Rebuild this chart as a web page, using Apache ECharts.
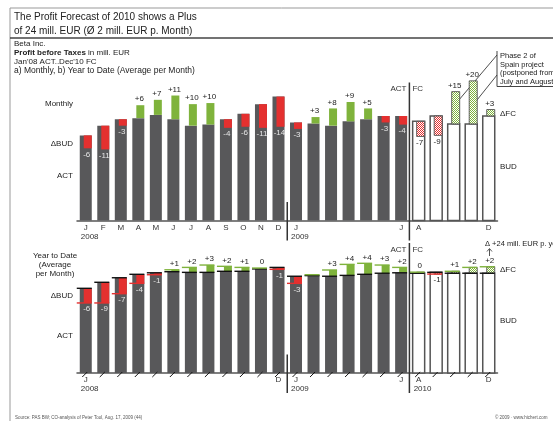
<!DOCTYPE html>
<html><head><meta charset="utf-8">
<script src="https://cdn.jsdelivr.net/npm/echarts@6/dist/echarts.min.js"></script>
<style>html,body{margin:0;padding:0;background:#fff}#c{width:553px;height:421px}</style>
</head><body><div id="c"></div>
<script>
// ---- data ----
const periods = ['Jan08','Feb08','Mar08','Apr08','May08','Jun08','Jul08','Aug08','Sep08','Oct08','Nov08','Dec08',
  'Jan09','Feb09','Mar09','Apr09','May09','Jun09','Jul09','AugFC','SepFC','OctFC','NovFC','DecFC'];
const topTicks    = ['J','F','M','A','M','J','J','A','S','O','N','D','J','','','','','','J','A','','','','D'];
const bottomTicks = ['J','','','','','','','','','','','D','J','','','','','','J','A','','','','D'];
const topYears    = ['2008','','','','','','','','','','','','2009','','','','','','','','','','',''];
const bottomYears = ['2008','','','','','','','','','','','','2009','','','','','','','2010','','','',''];
const firstForecast = 19;
// Monthly: budget and deviation (ACT/FC - BUD)
const monthBud   = [39.5,44,47,47.5,49,47,44,44.5,47,49.5,54,57.5, 45.5,45,44,46,47,48.5,48.5, 46,48.5,44.8,44.8,48.5];
const monthDelta = [-6,-11,-3,6,7,11,10,10,-4,-6,-11,-14, -3,3,8,9,5,-3,-4, -7,-9,15,20,3];
// Year to date (average per month)
const ytdBud    = [39.3,42.1,44.2,45.8,46.5,47.0,46.7,46.7,47.2,47.2,48.3,49.0, 44.9,45.2,44.9,45.3,45.8,46.3,46.5, 46.3,46.7,46.3,46.3,46.3];
const ytdAct    = [32.5,32.5,36.8,41.6,45.6,47.9,49.0,50.1,49.5,49.0,48.7,48.1, 41.6,45.6,47.8,50.4,50.9,50.1,49.0, 46.8,45.9,47.2,49.0,49.3];
const ytdLabels = ['-6','-9','-7','-4','-1','+1','+2','+3','+2','+1','0','-1', '-3','','+3','+4','+4','+3','+2', '0','-1','+1','+2','+2'];

const FONT = 'Liberation Sans, Arial, sans-serif';
const GREY = '#58585a', RED = '#e4302f', GREEN = '#7fb33c', TXT = '#222';

function checker(color){
  const c = document.createElement('canvas'); c.width = 2; c.height = 2;
  const g = c.getContext('2d'); g.fillStyle = '#fff'; g.fillRect(0,0,2,2);
  g.fillStyle = color; g.fillRect(0,0,1,1); g.fillRect(1,1,1,1);
  return {image: c, repeat: 'repeat'};
}
const RED_H = checker(RED), GREEN_H = checker(GREEN);

const monthAct = monthBud.map((b,i)=>b+monthDelta[i]);
const monthLabels = monthDelta.map(d => (d>0?'+':'')+d);

function txt(x,y,s,fill,align,va,size,weight){
  return {type:'text', style:{text:s, x:x, y:y, fill:fill||TXT, align:align||'center', verticalAlign:va||'middle',
    textAlign:align||'center', textVerticalAlign:va||'middle', fontSize:size||8, fontFamily:FONT, fontWeight:weight||'normal'}};
}

function makeRender(panel){
  return function(params, api){
    const i = params.dataIndex;
    const bud = panel.bud[i], act = panel.act[i], lab = panel.labels[i];
    const fc = i >= firstForecast;
    const p0 = api.coord([i,0]), pb = api.coord([i,bud]), pa = api.coord([i,act]);
    const band = api.size([1,0])[0];
    const k = band/17.52;
    const cx = p0[0], base = p0[1];
    const ch = [];
    ch.push({type:'rect', shape:{x:cx-6*k, y:pb[1], width:12*k, height:base-pb[1]},
      style: fc ? {fill:'#fff', stroke:'#555', lineWidth:1.5} : {fill:GREY}});
    const neg = act < bud;
    const y1 = Math.min(pa[1],pb[1]), h = Math.abs(pa[1]-pb[1]);
    if (h > 0.3) {
      ch.push({type:'rect', shape:{x:cx-2*k, y:y1, width:8*k, height:h},
        style: fc ? {fill: neg?RED_H:GREEN_H, stroke:'#555', lineWidth:0.9} : {fill: neg?RED:GREEN}});
    }
    if (panel.lines) {
      ch.push({type:'line', shape:{x1:cx-9*k,y1:pb[1],x2:cx+6*k,y2:pb[1]}, style:{stroke:'#111', lineWidth:1.4}});
      ch.push({type:'line', shape:{x1:cx-9*k,y1:pa[1],x2:cx+6*k,y2:pa[1]}, style:{stroke: neg?RED:GREEN, lineWidth:1.4}});
      ch.push({type:'line', shape:{x1:cx-3.5*k,y1:base+4,x2:cx+1.5*k,y2:base-1}, style:{stroke:'#111', lineWidth:1}});
    }
    if (lab !== '') {
      if (lab.charAt(0) === '-') {
        ch.push(txt(cx+1, Math.max(pa[1],pb[1])+6, lab, fc?TXT:'#e6e6e6'));
      } else {
        ch.push(txt(cx+1, Math.min(pa[1],pb[1])-6, lab, TXT));
      }
    }
    if (panel.years[i]) ch.push(txt(cx-5, base+16, panel.years[i], '#333', 'left'));
    if (i === 12) {
      const x = cx - band/2;
      ch.push({type:'line', shape:{x1:x,y1:base-18.5,x2:x,y2:base+20}, style:{stroke:'#333', lineWidth:1.5}});
    }
    if (i === firstForecast) {
      const x = cx - band/2 - 0.5;
      ch.push({type:'line', shape:{x1:x,y1:base-panel.sepTop,x2:x,y2:base+20}, style:{stroke:'#333', lineWidth:1.5}});
      ch.push(txt(x-3, base-panel.sepText, 'ACT', '#333', 'right'));
      ch.push(txt(x+3, base-panel.sepText, 'FC', '#333', 'left'));
    }
    return {type:'group', children:ch};
  };
}

const topPanel = {bud:monthBud, act:monthAct, labels:monthLabels, years:topYears, lines:false, sepTop:138, sepText:132};
const botPanel = {bud:ytdBud, act:ytdAct, labels:ytdLabels, years:bottomYears, lines:true, sepTop:130, sepText:123};

const SCALE_MAX = 70;
function xAxis(idx, ticks){
  return {type:'category', gridIndex:idx, data:periods, boundaryGap:true,
    axisLine:{show:true, lineStyle:{color:'#555', width:1.5}}, axisTick:{show:false},
    axisLabel:{interval:0, fontSize:8, color:'#333', fontFamily:FONT, margin:3, formatter:(v,i)=>ticks[i]}};
}
function yAxis(idx){ return {type:'value', gridIndex:idx, min:0, max:SCALE_MAX, show:false, splitLine:{show:false}}; }

const chart = echarts.init(document.getElementById('c'), null, {renderer:'canvas'});
function gt(x,y,s,opt){
  opt = opt||{};
  return {type:'text', x:x, y:y, silent:true, style:{text:s, fill:opt.fill||'#222', font:(opt.weight||'normal')+' '+(opt.size||8)+'px '+FONT,
    textAlign:opt.align||'left', textVerticalAlign:'middle', align:opt.align||'left', verticalAlign:'middle'}};
}
function gl(x1,y1,x2,y2,c,w){ return {type:'line', silent:true, shape:{x1,y1,x2,y2}, style:{stroke:c||'#333', lineWidth:w||1}}; }

chart.setOption({
  animation:false,
  grid:[{left:77, width:420.5, top:69.65, height:150.85}, {left:77, width:420.5, top:222.15, height:150.85}],
  xAxis:[xAxis(0, topTicks), xAxis(1, bottomTicks)],
  yAxis:[yAxis(0), yAxis(1)],
  series:[
    {type:'custom', xAxisIndex:0, yAxisIndex:0, data:monthBud.map((b,i)=>[i,b]), renderItem:makeRender(topPanel), silent:true, clip:false},
    {type:'custom', xAxisIndex:1, yAxisIndex:1, data:ytdBud.map((b,i)=>[i,b]), renderItem:makeRender(botPanel), silent:true, clip:false}
  ],
  graphic:[
    gl(10,8,553,8,'#999',1), gl(10,8,10,421,'#999',1), gl(10,38,553,38,'#444',1.5),
    gt(14,17,'The Profit Forecast of 2010 shows a Plus',{size:10}),
    gt(14,31,'of 24 mill. EUR (Ø 2 mill. EUR p. Month)',{size:10}),
    gt(14,43.5,'Beta Inc.',{size:8}),
    {type:'text', x:14, y:52.5, silent:true, style:{text:'{b|Profit before Taxes} in mill. EUR', fill:'#222', font:'8px '+FONT, textVerticalAlign:'middle', verticalAlign:'middle',
      rich:{b:{fontWeight:'bold', fontSize:8, fontFamily:FONT}}}},
    gt(14,61.5,"Jan'08 ACT..Dec'10 FC",{size:8}),
    gt(14,70.5,'a) Monthly, b) Year to Date (Average per Month)',{size:8.5}),
    gt(73,104,'Monthly',{align:'right'}),
    gt(73,144,'\u0394BUD',{align:'right'}),
    gt(73,176,'ACT',{align:'right'}),
    gt(55,256,'Year to Date',{align:'center'}),
    gt(55,265,'(Average',{align:'center'}),
    gt(55,274,'per Month)',{align:'center'}),
    gt(73,296,'\u0394BUD',{align:'right'}),
    gt(73,336,'ACT',{align:'right'}),
    gt(500,113.5,'\u0394FC'), gt(500,167,'BUD'),
    gt(500,270,'\u0394FC'), gt(500,321,'BUD'),
    gl(497,51,497,86.5,'#444',1), gl(497,86.5,553,86.5,'#444',1),
    gt(500,56,'Phase 2 of',{size:7.5}), gt(500,64.5,'Spain project',{size:7.5}),
    gt(500,73,'(postponed from',{size:7.5}), gt(500,81.5,'July and August)',{size:7.5}),
    gl(497,55,455.5,104,'#222',0.8), gl(497,75,473,105,'#222',0.8),
    {type:'circle', silent:true, shape:{cx:455.5, cy:104, r:1}, style:{fill:'#222'}},
    {type:'circle', silent:true, shape:{cx:473, cy:105, r:1}, style:{fill:'#222'}},
    gt(485,244,'\u0394 +24 mill. EUR p. year',{size:7.5}),
    gl(489.5,256,489.5,249,'#555',1),
    {type:'polyline', silent:true, shape:{points:[[487,251.5],[489.5,248.5],[492,251.5]]}, style:{stroke:'#555', fill:null, lineWidth:1}},
    gt(15,418,'Source: PAS BW; CO-analysis of Peter Tool, Aug. 17, 2009 (44)',{size:4.5, fill:'#555'}),
    gt(495,418,'\u00a9 2009 \u00b7 www.hichert.com',{size:4.5, fill:'#555'})
  ]
});
</script>
</body></html>
